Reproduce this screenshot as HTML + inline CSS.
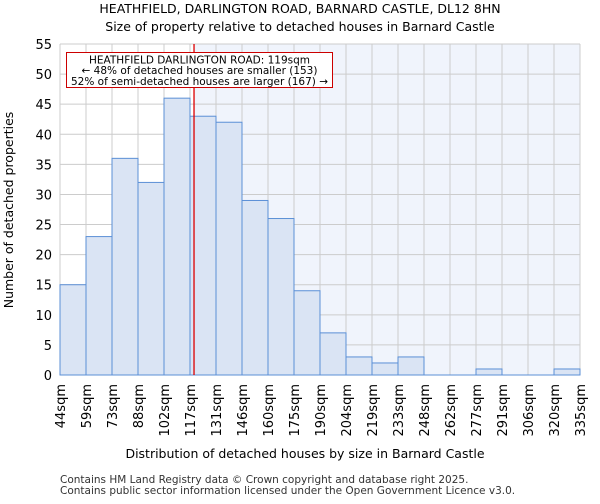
<!DOCTYPE html>
<html><head><meta charset="utf-8"><style>
body{margin:0;background:#fff;font-family:"DejaVu Sans","Liberation Sans",sans-serif;}
svg text{font-family:"DejaVu Sans","Liberation Sans",sans-serif;}
</style></head><body>
<svg id="chart" width="600" height="500" xmlns="http://www.w3.org/2000/svg">
<text x="300" y="13" text-anchor="middle" font-size="12.5">HEATHFIELD, DARLINGTON ROAD, BARNARD CASTLE, DL12 8HN</text>
<text x="300" y="31" text-anchor="middle" font-size="12.5">Size of property relative to detached houses in Barnard Castle</text>
<g id="plot"></g>
<text x="305" y="458" text-anchor="middle" font-size="12.5">Distribution of detached houses by size in Barnard Castle</text>
<text transform="translate(13,210) rotate(-90)" text-anchor="middle" font-size="12.5">Number of detached properties</text>
<text x="60" y="483" font-size="10.5" fill="#333">Contains HM Land Registry data © Crown copyright and database right 2025.</text>
<text x="60" y="494" font-size="10.5" fill="#333">Contains public sector information licensed under the Open Government Licence v3.0.</text>
</svg>
<script>
const binLabels=["44sqm","59sqm","73sqm","88sqm","102sqm","117sqm","131sqm","146sqm","160sqm","175sqm","190sqm","204sqm","219sqm","233sqm","248sqm","262sqm","277sqm","291sqm","306sqm","320sqm","335sqm"];
const counts=[15,23,36,32,46,43,42,29,26,14,7,3,2,3,0,0,1,0,0,1];
const yTicks=[0,5,10,15,20,25,30,35,40,45,50,55];
const xMin=44, xMax=335, subjectSize=119;
const L=60,R=580,T=44,B=375;
const NS="http://www.w3.org/2000/svg";
const g=document.getElementById('plot');
const xs=v=>L+(v-xMin)/(xMax-xMin)*(R-L);
const xb=i=>L+i*(R-L)/counts.length;
const ys=v=>B-v/55*(B-T);
function mk(t,a){const e=document.createElementNS(NS,t);for(const k in a)e.setAttribute(k,a[k]);g.appendChild(e);return e;}
const rx=xs(subjectSize);
let e;
e=mk('rect',{x:L,y:T,width:R-L,height:B-T,fill:'#fff'});


e=mk('rect',{x:rx,y:T,width:R-rx,height:B-T,fill:'#f0f4fc'});


yTicks.forEach(v=>{
 e=mk('line',{x1:L,x2:R,y1:ys(v),y2:ys(v),stroke:'#ccc','stroke-width':1});
 
 
 e=mk('text',{x:L-8,y:ys(v)+5,'text-anchor':'end','font-size':13});
 e.textContent=v;
 
 
});
binLabels.forEach((s,i)=>{
 const x=xb(i);
 e=mk('line',{x1:x,x2:x,y1:T,y2:B,stroke:'#ccc','stroke-width':1});
 
 
 e=mk('text',{transform:`translate(${x+5},384) rotate(-90)`,'text-anchor':'end','font-size':13});
 e.textContent=s;
 
 
});
counts.forEach((c,i)=>{
 if(c<=0)return;
 e=mk('rect',{x:xb(i),y:ys(c),width:xb(i+1)-xb(i),height:B-ys(c),fill:'#dae4f4',stroke:'#5b8fd6','stroke-width':1});
 
 
});
e=mk('line',{x1:L,x2:R,y1:B,y2:B,stroke:'#5b8fd6','stroke-width':1});


e=mk('line',{x1:rx,x2:rx,y1:T,y2:B,stroke:'#d00','stroke-width':1.3});


e=mk('rect',{x:66.5,y:52.5,width:266,height:35,fill:'#fff',stroke:'#c00','stroke-width':1});


["HEATHFIELD DARLINGTON ROAD: 119sqm","← 48% of detached houses are smaller (153)","52% of semi-detached houses are larger (167) →"].forEach((s,i)=>{
 e=mk('text',{x:199.5,y:63.5+i*10.7,'text-anchor':'middle','font-size':10.5});
 e.textContent=s;
 
 
});
</script>
</body></html>
